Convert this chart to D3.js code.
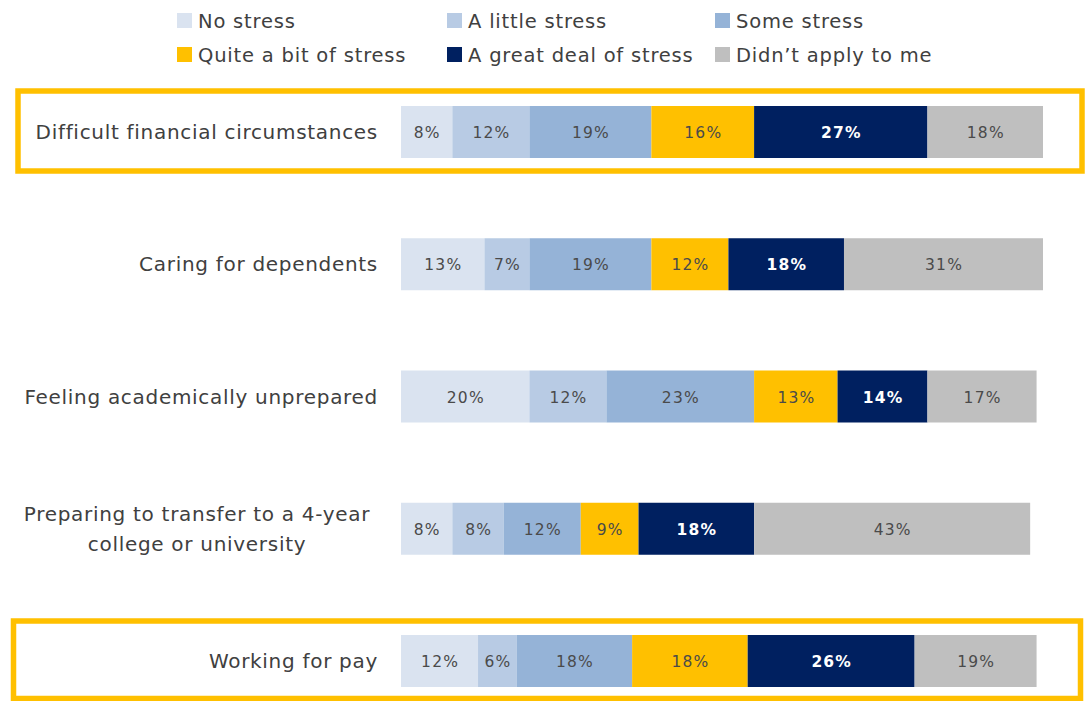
<!DOCTYPE html>
<html>
<head>
<meta charset="utf-8">
<script src="https://cdn.jsdelivr.net/npm/d3@7"></script>
<style>
  html, body { margin: 0; padding: 0; background: #fff; }
  svg { display: block; }
</style>
</head>
<body>
<svg id="chart" width="1088" height="701"></svg>
<script>
// ---- data ----
const categories = [
  "Difficult financial circumstances",
  "Caring for dependents",
  "Feeling academically unprepared",
  "Preparing to transfer to a 4-year college or university",
  "Working for pay"
];
const categoryLines = [
  ["Difficult financial circumstances"],
  ["Caring for dependents"],
  ["Feeling academically unprepared"],
  ["Preparing to transfer to a 4-year", "college or university"],
  ["Working for pay"]
];
const seriesNames = ["No stress", "A little stress", "Some stress", "Quite a bit of stress", "A great deal of stress", "Didn\u2019t apply to me"];
const noStress      = [8, 13, 20, 8, 12];
const aLittleStress = [12, 7, 12, 8, 6];
const someStress    = [19, 19, 23, 12, 18];
const quiteABit     = [16, 12, 13, 9, 18];
const greatDeal     = [27, 18, 14, 18, 26];
const didntApply    = [18, 31, 17, 43, 19];
const highlighted   = ["Difficult financial circumstances", "Working for pay"];

const colors = ["#dae3f0", "#b8cbe4", "#95b3d7", "#ffc000", "#002060", "#bfbfbf"];
const textDark = "#404040";

// ---- layout ----
const svg = d3.select("#chart");
const seriesValues = [noStress, aLittleStress, someStress, quiteABit, greatDeal, didntApply];
const rows = categories.map((c, i) => {
  const obj = { category: c };
  seriesNames.forEach((s, j) => obj[s] = seriesValues[j][i]);
  return obj;
});
const stacked = d3.stack().keys(seriesNames)(rows);

const x = d3.scaleLinear().domain([0, 100]).range([401, 1043]);
const y = d3.scalePoint().domain(categories).range([132, 661]);
const barH = 52;
const color = d3.scaleOrdinal().domain(seriesNames).range(colors);

const font = "'DejaVu Sans', sans-serif";

// highlight boxes
const boxes = [
  { cat: highlighted[0], x0: 18, x1: 1082, y0: 91, y1: 171 },
  { cat: highlighted[1], x0: 13.5, x1: 1080.5, y0: 621, y1: 698.5 }
];
svg.append("g").selectAll("rect").data(boxes).join("rect")
  .attr("x", d => d.x0).attr("y", d => d.y0)
  .attr("width", d => d.x1 - d.x0).attr("height", d => d.y1 - d.y0)
  .attr("fill", "none").attr("stroke", "#ffc000").attr("stroke-width", 5.5);

// bars
const gBars = svg.append("g");
stacked.forEach((layer, li) => {
  const g = gBars.append("g").attr("fill", color(layer.key));
  g.selectAll("rect").data(layer).join("rect")
    .attr("x", d => x(d[0]))
    .attr("y", d => y(d.data.category) - barH / 2)
    .attr("width", d => x(d[1]) - x(d[0]))
    .attr("height", barH);
  g.selectAll("text").data(layer).join("text")
    .attr("x", d => (x(d[0]) + x(d[1])) / 2 + 0.6)
    .attr("y", d => y(d.data.category) + 6)
    .attr("text-anchor", "middle")
    .attr("font-family", font)
    .attr("font-size", 15.5)
    .attr("letter-spacing", 1.2)
    .attr("font-weight", layer.key === seriesNames[4] ? "bold" : "normal")
    .attr("fill", layer.key === seriesNames[4] ? "#ffffff" : "#4a4a4a")
    .text(d => (d[1] - d[0]) + "%");
});

// category labels
const gLab = svg.append("g");
categories.forEach((c, i) => {
  const lines = categoryLines[i];
  const cy = y(c);
  if (lines.length === 1) {
    gLab.append("text")
      .attr("x", 378).attr("y", cy + 7)
      .attr("text-anchor", "end")
      .attr("font-family", font).attr("font-size", 20)
      .attr("letter-spacing", 0.7)
      .attr("fill", textDark)
      .text(lines[0]);
  } else {
    lines.forEach((ln, k) => {
      gLab.append("text")
        .attr("x", 197).attr("y", cy - 8 + k * 30)
        .attr("text-anchor", "middle")
        .attr("font-family", font).attr("font-size", 20)
        .attr("letter-spacing", 0.7)
        .attr("fill", textDark)
        .text(ln);
    });
  }
});

// legend
const legendPos = [
  { sx: 177, sy: 13 }, { sx: 447, sy: 13 }, { sx: 715, sy: 13 },
  { sx: 177, sy: 47 }, { sx: 447, sy: 47 }, { sx: 715, sy: 47 }
];
const gLeg = svg.append("g");
seriesNames.forEach((s, i) => {
  const p = legendPos[i];
  gLeg.append("rect").attr("x", p.sx).attr("y", p.sy).attr("width", 15).attr("height", 15)
    .attr("fill", color(s));
  gLeg.append("text").attr("x", p.sx + 21).attr("y", p.sy + 15)
    .attr("font-family", font).attr("font-size", 19.5).attr("letter-spacing", 0.8)
    .attr("fill", textDark)
    .text(s);
});
</script>
</body>
</html>
